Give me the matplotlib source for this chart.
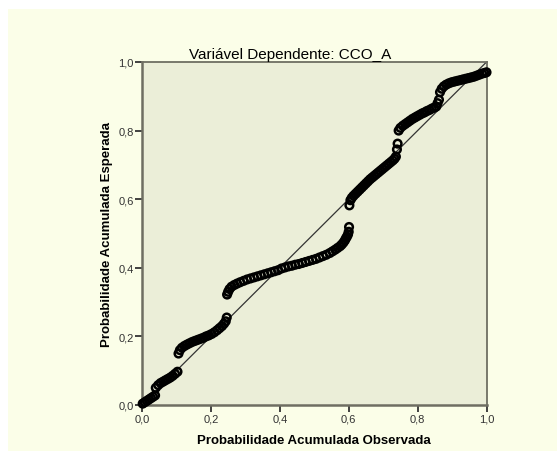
import numpy as np
import matplotlib.pyplot as plt
from matplotlib.patches import Rectangle

plt.rcParams['font.family'] = ['Liberation Sans', 'DejaVu Sans']

obs_a = [0.002, 0.008, 0.014, 0.020, 0.026, 0.032, 0.038]
exp_a = [0.004, 0.008, 0.012, 0.016, 0.020, 0.024, 0.028]

obs_b = [0.040, 0.047, 0.054, 0.061, 0.068, 0.075, 0.082, 0.089, 0.096, 0.103]
exp_b = [0.050, 0.058, 0.064, 0.068, 0.072, 0.076, 0.080, 0.085, 0.091, 0.097]

obs_c = [0.106, 0.110, 0.116, 0.123, 0.130, 0.138, 0.146, 0.154, 0.162, 0.170,
         0.178, 0.186, 0.194, 0.202, 0.210, 0.218, 0.225, 0.232, 0.238, 0.243, 0.246]
exp_c = [0.150, 0.160, 0.167, 0.172, 0.176, 0.180, 0.184, 0.187, 0.190, 0.193,
         0.196, 0.200, 0.203, 0.207, 0.212, 0.218, 0.224, 0.230, 0.237, 0.244, 0.255]

obs_d = [0.247, 0.250, 0.254, 0.260, 0.268, 0.276, 0.285, 0.295, 0.305, 0.315,
         0.325, 0.335, 0.345, 0.355, 0.365, 0.375, 0.385, 0.395, 0.405, 0.415,
         0.425, 0.435, 0.445, 0.455, 0.465, 0.475, 0.485, 0.495, 0.505, 0.515,
         0.525, 0.535, 0.545, 0.553, 0.561, 0.568, 0.575, 0.580, 0.585, 0.589,
         0.592, 0.595, 0.598, 0.600, 0.601]
exp_d = [0.322, 0.330, 0.338, 0.345, 0.350, 0.354, 0.358, 0.362, 0.366, 0.369,
         0.372, 0.375, 0.378, 0.381, 0.384, 0.387, 0.390, 0.393, 0.398, 0.401,
         0.404, 0.406, 0.409, 0.411, 0.414, 0.417, 0.420, 0.423, 0.426, 0.430,
         0.434, 0.438, 0.443, 0.448, 0.453, 0.458, 0.463, 0.468, 0.474, 0.480,
         0.486, 0.491, 0.497, 0.505, 0.519]

obs_e = [0.602, 0.605, 0.609, 0.614, 0.620, 0.626, 0.632, 0.638, 0.644, 0.650,
         0.656, 0.662, 0.668, 0.674, 0.680, 0.686, 0.692, 0.698, 0.704, 0.710,
         0.716, 0.722, 0.728, 0.733, 0.737, 0.740, 0.742]
exp_e = [0.582, 0.597, 0.604, 0.610, 0.616, 0.622, 0.628, 0.634, 0.640, 0.646,
         0.652, 0.658, 0.663, 0.668, 0.673, 0.678, 0.683, 0.688, 0.693, 0.698,
         0.703, 0.708, 0.713, 0.718, 0.724, 0.745, 0.762]

obs_f = [0.745, 0.750, 0.757, 0.764, 0.771, 0.778, 0.785, 0.792, 0.799, 0.806,
         0.813, 0.820, 0.827, 0.834, 0.841, 0.848, 0.854, 0.858, 0.862, 0.865]
exp_f = [0.800, 0.808, 0.814, 0.819, 0.824, 0.829, 0.834, 0.838, 0.842, 0.846,
         0.850, 0.853, 0.857, 0.860, 0.864, 0.867, 0.870, 0.880, 0.890, 0.912]

obs_g = [0.870, 0.876, 0.883, 0.891, 0.899, 0.907, 0.915, 0.923, 0.931, 0.939,
         0.947, 0.955, 0.963, 0.971, 0.979, 0.987, 0.994, 1.000]
exp_g = [0.922, 0.929, 0.934, 0.938, 0.941, 0.943, 0.945, 0.947, 0.949, 0.951,
         0.953, 0.955, 0.957, 0.960, 0.963, 0.966, 0.968, 0.970]

observed = obs_a + obs_b + obs_c + obs_d + obs_e + obs_f + obs_g
expected = exp_a + exp_b + exp_c + exp_d + exp_e + exp_f + exp_g

ticks = [0.0, 0.2, 0.4, 0.6, 0.8, 1.0]
tick_labels = ['0,0', '0,2', '0,4', '0,6', '0,8', '1,0']

fig_bg = '#FBFEE8'
ax_bg = '#EBEED8'
spine_col = '#6E6E62'

fig = plt.figure(figsize=(5.57, 4.52), dpi=100)
fig.patch.set_facecolor(fig_bg)
# white strips along the top and left edge
fig.patches.append(Rectangle((0, (452 - 10) / 452), 1, 10 / 452,
                             transform=fig.transFigure, facecolor='white',
                             edgecolor='none'))
fig.patches.append(Rectangle((0, 0), 8 / 557, 1,
                             transform=fig.transFigure, facecolor='white',
                             edgecolor='none'))

ax = fig.add_axes([142 / 557, 46 / 452, 344.5 / 557, 343 / 452])
ax.set_zorder(2)
ax.set_facecolor(ax_bg)

ax.plot([0, 1], [0, 1], color='#333333', linewidth=0.9, zorder=2)
ax.scatter(observed, expected, s=30, facecolors='none', edgecolors='black',
           linewidths=1.8, zorder=3, clip_on=False)

ax.set_xlim(0, 1)
ax.set_ylim(0, 1)
ax.set_xticks(ticks)
ax.set_yticks(ticks)
ax.set_xticklabels(tick_labels)
ax.set_yticklabels(tick_labels)
ax.tick_params(direction='out', length=5, width=1.3, color='#333333',
               labelsize=8, labelcolor='#333333', pad=1)

for side in ['left', 'bottom']:
    ax.spines[side].set_color(spine_col)
    ax.spines[side].set_linewidth(1.8)
for side in ['top', 'right']:
    ax.spines[side].set_color(spine_col)
    ax.spines[side].set_linewidth(1.3)

ax.set_title('Variável Dependente: CCO_A', fontsize=11, pad=3, x=0.43)
ax.set_xlabel('Probabilidade Acumulada Observada', fontsize=9.5,
              fontweight='bold', labelpad=8)
ax.set_ylabel('Probabilidade Acumulada Esperada', fontsize=9.5,
              fontweight='bold', labelpad=4)

plt.savefig('out.png', dpi=100, facecolor=fig.get_facecolor())
